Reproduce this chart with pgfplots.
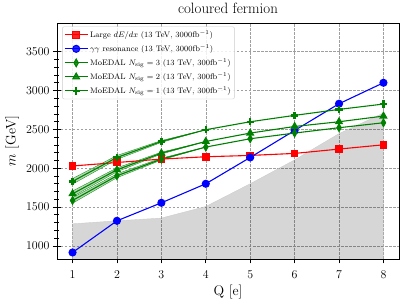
\documentclass[border=0pt]{standalone}
\usepackage{pgfplots}
\pgfplotsset{compat=1.18}
\begin{document}
\begin{tikzpicture}
\begin{axis}[
  width=342bp, height=236bp, scale only axis,
  xmin=0.65, xmax=8.35, ymin=830, ymax=3870,
  xtick={1,2,3,4,5,6,7,8},
  ytick={1000,1500,2000,2500,3000,3500},
  minor y tick num=4,
  xtick pos=bottom, ytick pos=left,
  xtick align=outside, ytick align=center,
  major tick length=8bp, minor tick length=5bp,
  x tick style={black, line width=0.6pt, /pgfplots/major tick length=4.5bp},
  y tick style={black, line width=0.6pt},
  scaled y ticks=false,
  yticklabel style={/pgf/number format/1000 sep={}},
  ticklabel style={font=\fontsize{11.5}{13}\selectfont},
  grid=major,
  major grid style={dashed, gray!75, line width=0.5pt, dash pattern=on 2.5bp off 1.5bp},
  axis line style={line width=0.8pt},
  title={coloured fermion},
  title style={font=\fontsize{15}{17}\selectfont, at={(0.5,1)}, anchor=south, yshift=0bp},
  xlabel={Q [e]},
  ylabel={$m$ [GeV]},
  label style={font=\fontsize{14}{16}\selectfont},
  legend style={at={(0.015,0.985)}, anchor=north west, draw=black!20, rounded corners=2pt,
    fill=white, fill opacity=0.85, text opacity=1, font=\fontsize{8}{9.5}\selectfont,
    row sep=1.9pt, inner sep=2pt},
  legend cell align=left,
  legend image code/.code={\draw[mark repeat=2,mark phase=2] plot coordinates {(0cm,0cm)(0.4cm,0cm)(0.8cm,0cm)};},
]
% shaded region
\addplot[fill=black, fill opacity=0.16, draw=black!20, forget plot]
  coordinates {(1,0)(1,1283)(2,1322)(3,1357)(4,1506)(5,1799)(6,2106)(7,2445)(8,2710)(8,0)} -- cycle;
% green bands
\addplot[fill=green!50!black, fill opacity=0.3, draw=green!50!black, line width=0.3pt, forget plot]
  coordinates {(1,1866)(2,2163)(3,2356)(4,2495)(4,2495)(3,2332)(2,2113)(1,1794)} -- cycle;
\addplot[fill=green!50!black, fill opacity=0.3, draw=green!50!black, line width=0.3pt, forget plot]
  coordinates {(1,1706)(2,2004)(3,2206)(4,2344)(4,2344)(3,2182)(2,1954)(1,1634)} -- cycle;
\addplot[fill=green!50!black, fill opacity=0.3, draw=green!50!black, line width=0.3pt, forget plot]
  coordinates {(1,1620)(2,1927)(3,2129)(4,2272)(4,2272)(3,2105)(2,1877)(1,1548)} -- cycle;
% red
\addplot[red, line width=1.1pt, mark=square*, mark size=3.3bp, mark options={solid}]
  coordinates {(1,2028)(2,2073)(3,2117)(4,2147)(5,2164)(6,2190)(7,2246)(8,2301)};
\addlegendentry{Large $dE/dx$ (13 TeV, 3000fb$^{-1}$)}
% blue
\addplot[blue, line width=1.1pt, mark=*, mark size=3.5bp, mark options={solid}]
  coordinates {(1,914)(2,1322)(3,1554)(4,1799)(5,2138)(6,2486)(7,2830)(8,3100)};
\addlegendentry{$\gamma\gamma$ resonance (13 TeV, 3000fb$^{-1}$)}
% N=3
\addplot[green!50!black, line width=1.1pt, mark=diamond*, mark size=3.8bp, mark options={solid, xscale=0.75}]
  coordinates {(1,1584)(2,1902)(3,2117)(4,2272)(5,2379)(6,2452)(7,2521)(8,2585)};
\addlegendentry{MoEDAL $N_{\rm sig}=3$ (13 TeV, 300fb$^{-1}$)}
% N=2
\addplot[green!50!black, line width=1.1pt, mark=triangle*, mark size=3.8bp, mark options={solid}]
  coordinates {(1,1670)(2,1979)(3,2194)(4,2344)(5,2452)(6,2537)(7,2598)(8,2671)};
\addlegendentry{MoEDAL $N_{\rm sig}=2$ (13 TeV, 300fb$^{-1}$)}
% N=1
\addplot[green!50!black, line width=1.1pt, mark=+, mark size=3.6bp, mark options={solid, line width=2.4pt}]
  coordinates {(1,1830)(2,2138)(3,2344)(4,2495)(5,2598)(6,2680)(7,2757)(8,2826)};
\addlegendentry{MoEDAL $N_{\rm sig}=1$ (13 TeV, 300fb$^{-1}$)}
\end{axis}
\pgfresetboundingbox
\path[use as bounding box] (current axis.south west) ++(-57bp,-46bp) rectangle ++(407bp,305bp);
\end{tikzpicture}
\end{document}
